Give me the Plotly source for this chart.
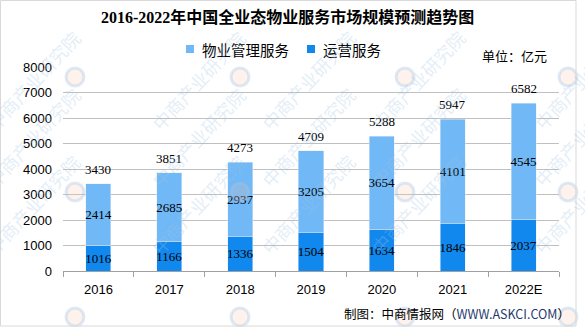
import plotly.graph_objects as go

# 2016-2022E market size of full-format property services in China (100 million yuan)
years = ["2016", "2017", "2018", "2019", "2020", "2021", "2022E"]
operation_services = [1016, 1166, 1336, 1504, 1634, 1846, 2037]
property_management = [2414, 2685, 2937, 3205, 3654, 4101, 4545]
totals = [a + b for a, b in zip(operation_services, property_management)]

name_pm = "物业管理服务"
name_ops = "运营服务"
color_pm = "#70B8F6"
color_ops = "#1188EE"

W, H = 585, 327
L, R, T, B = 63, 559, 67, 271  # plot area in pixels


def px(x):
    return (x - L) / (R - L)


def py(y):
    return (B - y) / (B - T)


num_font = dict(family="Liberation Serif, Times New Roman, serif", size=13, color="#000000")

fig = go.Figure()
fig.add_trace(go.Bar(
    x=years, y=operation_services, name=name_ops, marker_color=color_ops,
    text=operation_services, textposition="inside", insidetextanchor="middle",
    constraintext="none", textfont=num_font, textangle=0, showlegend=False,
))
fig.add_trace(go.Bar(
    x=years, y=property_management, name=name_pm, marker_color=color_pm,
    text=property_management, textposition="inside", insidetextanchor="middle",
    constraintext="none", textfont=num_font, textangle=0, showlegend=False,
))

annotations = []
# totals above each stack (category index positions)
for i, tot in enumerate(totals):
    annotations.append(dict(x=i, y=tot, xref="x", yref="y", text=str(tot),
                            showarrow=False, yanchor="bottom", yshift=5, font=num_font))

# title
annotations.append(dict(x=px(287), y=py(17), xref="paper", yref="paper",
                        text="<b>2016-2022年中国全业态物业服务市场规模预测趋势图</b>",
                        showarrow=False, xanchor="center", yanchor="middle",
                        font=dict(family="Liberation Serif, Noto Sans CJK SC", size=16, color="#000000")))

# legend
cjk = "Noto Sans CJK SC, Liberation Sans, sans-serif"
legend_items = [(name_pm, color_pm, 186), (name_ops, color_ops, 307)]
shapes = []
for label, col, x0 in legend_items:
    shapes.append(dict(type="rect", xref="paper", yref="paper",
                       x0=px(x0), x1=px(x0 + 8), y0=py(53), y1=py(45),
                       fillcolor=col, line=dict(width=0)))
    annotations.append(dict(x=px(x0 + 14), y=py(49), xref="paper", yref="paper", text=label,
                            showarrow=False, xanchor="left", yanchor="middle",
                            font=dict(family=cjk, size=14.5, color="#000000")))

# unit
annotations.append(dict(x=px(549), y=py(56), xref="paper", yref="paper", text="单位：亿元",
                        showarrow=False, xanchor="right", yanchor="middle",
                        font=dict(family=cjk, size=13, color="#000000")))

# source
annotations.append(dict(x=px(572), y=py(313), xref="paper", yref="paper",
                        text="制图：中商情报网（<span style='color:#1F3B6E'>WWW.ASKCI.COM</span>）",
                        showarrow=False, xanchor="right", yanchor="middle",
                        font=dict(family="Noto Sans CJK SC, Liberation Sans", size=12.5, color="#000000")))

# watermark
wm_color = "rgba(160,195,228,0.30)"
for X in [-90, 75, 240, 405, 568]:
    for Y in [77, 192, 317]:
        annotations.append(dict(x=px(X + 68), y=py(Y - 55), xref="paper", yref="paper",
                                text="中商产业研究院", textangle=-47, showarrow=False,
                                font=dict(family=cjk, size=18, color=wm_color)))
        shapes.append(dict(type="circle", xref="paper", yref="paper", layer="above",
                           x0=px(X - 9), x1=px(X + 9), y0=py(Y + 9), y1=py(Y - 9),
                           fillcolor="rgba(245,195,170,0.22)",
                           line=dict(color="rgba(160,195,228,0.35)", width=3)))

# outer frame
shapes.append(dict(type="rect", xref="paper", yref="paper",
                   x0=px(0.5), x1=px(576), y0=py(326), y1=py(0.5),
                   line=dict(color="#D9D9D9", width=1), fillcolor="rgba(0,0,0,0)"))

axis_font = dict(family="Liberation Sans, Arial, sans-serif", size=13, color="#000000")

fig.update_layout(
    width=W, height=H,
    margin=dict(l=L, r=W - R, t=T, b=H - B, pad=0),
    barmode="stack", bargap=0.647,
    plot_bgcolor="white", paper_bgcolor="white",
    showlegend=False,
    annotations=annotations, shapes=shapes,
    xaxis=dict(type="category", range=[-0.5, len(years) - 0.5], showline=True,
               linecolor="#A0A0A0", linewidth=1,
               ticks="outside", ticklen=5, tickcolor="#A0A0A0", tickson="boundaries",
               tickfont=axis_font, ticklabelstandoff=6, showgrid=False, fixedrange=True),
    yaxis=dict(range=[0, 8000], dtick=1000, showgrid=True, gridcolor="#C0C0C0", gridwidth=1,
               zeroline=False, showline=False, tickfont=axis_font, ticklabelstandoff=10,
               fixedrange=True),
)

fig.write_html("out.html")
